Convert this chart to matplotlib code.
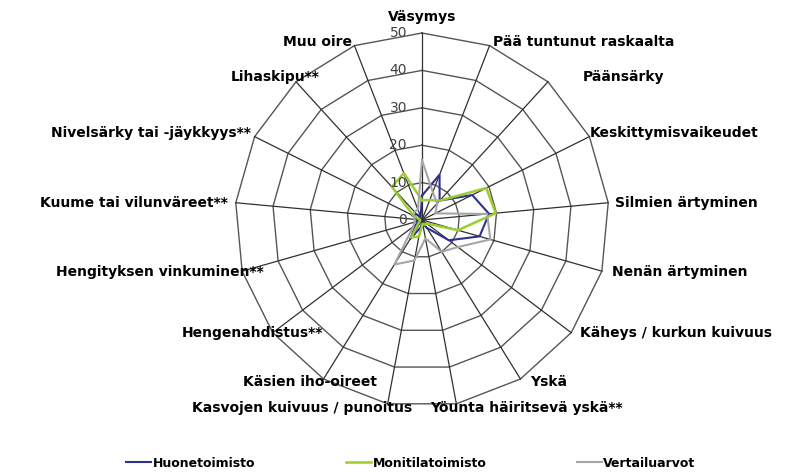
import numpy as np
import matplotlib
matplotlib.use('Agg')
import matplotlib.pyplot as plt
from matplotlib.transforms import offset_copy

categories = ['Väsymys', 'Pää tuntunut raskaalta', 'Päänsärky', 'Keskittymisvaikeudet',
              'Silmien ärtyminen', 'Nenän ärtyminen', 'Käheys / kurkun kuivuus', 'Yskä',
              'Yöunta häiritsevä yskä**', 'Kasvojen kuivuus / punoitus', 'Käsien iho-oireet',
              'Hengenahdistus**', 'Hengityksen vinkuminen**', 'Kuume tai vilunväreet**',
              'Nivelsärky tai -jäykkyys**', 'Lihaskipu**', 'Muu oire']

huonetoimisto = [6.5, 13, 7, 15, 18, 16, 9, 2.5, 1, 2, 6, 2, 1, 1.5, 3, 2, 1]
monitilatoimisto = [5.3, 5.7, 7, 19.2, 19.8, 10, 1.5, 1.5, 1, 4.5, 5.5, 1, 0.5, 0.5, 2.5, 12, 13.4]
vertailuarvot = [16, 8, 6, 4, 17.5, 19, 12, 10, 5, 11, 14, 3, 2, 2, 2.5, 3, 3]

rings = [10, 20, 30, 40, 50]
ring_labels = ['0', '10', '20', '30', '40', '50']

# label anchors in pixels (x, y from top) and alignment
label_pos = [(422, 17, 'center'), (493, 42, 'left'), (583, 77, 'left'), (590, 133, 'left'),
             (615, 203, 'left'), (612, 272, 'left'), (580, 333, 'left'), (530, 382, 'left'),
             (430, 408, 'left'), (412, 408, 'right'), (377, 382, 'right'), (323, 333, 'right'),
             (264, 272, 'right'), (228, 203, 'right'), (251, 133, 'right'), (320, 77, 'right'),
             (352, 42, 'right')]

W, H = 788, 473
fig = plt.figure(figsize=(W / 100, H / 100), dpi=100)
cx, cy, R = 422, 220, 187
ax = fig.add_axes([(cx - R) / W, (H - cy - R) / H, 2 * R / W, 2 * R / H], projection='polar')
ax.set_theta_zero_location('N')
ax.set_theta_direction(-1)
ax.set_ylim(0, 50)
ax.grid(False)
ax.set_xticks([])
ax.set_yticks([])
ax.spines['polar'].set_visible(False)
ax.patch.set_visible(False)

n = len(categories)
angles = np.arange(n) * 2 * np.pi / n
closed = np.append(angles, angles[0])

for r in rings:
    ax.plot(closed, [r] * (n + 1), color='#555555', lw=1.0, clip_on=False, zorder=1)
for a in angles:
    ax.plot([a, a], [0, 50], color='#303030', lw=0.9, clip_on=False, zorder=1)

series = [('Huonetoimisto', huonetoimisto, '#2e3192', 1.5),
          ('Monitilatoimisto', monitilatoimisto, '#9ccc2e', 1.8),
          ('Vertailuarvot', vertailuarvot, '#a6a6a6', 1.5)]
handles = []
for name, vals, col, lw in series:
    v = np.append(vals, vals[0])
    h, = ax.plot(closed, v, color=col, lw=lw, label=name, zorder=3, clip_on=False)
    handles.append(h)

trans = offset_copy(ax.transData, fig=fig, x=-15, y=0, units='dots')
for r, lab in zip([0] + rings, ring_labels):
    ax.text(0, r, lab, transform=trans, ha='right', va='center', fontsize=10,
            color='#404040', zorder=4)

for lab, (x, y, ha) in zip(categories, label_pos):
    fig.text(x / W, 1 - y / H, lab, ha=ha, va='center', fontsize=10, fontweight='bold',
             color='#000000')

fig.legend(handles=handles, loc='center', bbox_to_anchor=(411 / W, 1 - 463 / H), ncol=3,
           frameon=False, handlelength=2.0, handletextpad=0.15, columnspacing=7.2,
           prop={'family': 'DejaVu Sans', 'weight': 'bold', 'size': 9})

fig.savefig('out.png', dpi=100)
